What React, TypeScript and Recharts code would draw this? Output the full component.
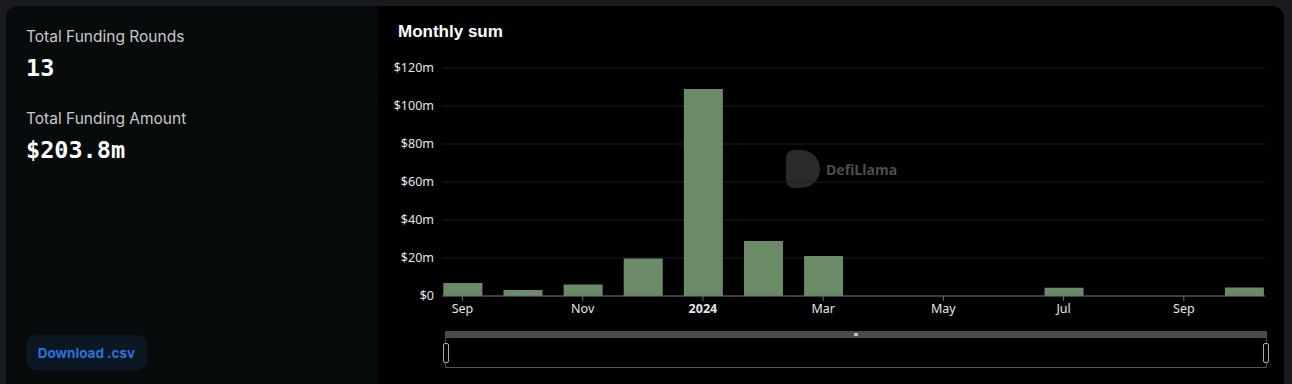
import React from 'react'
import { BarChart, Bar, XAxis, YAxis, CartesianGrid } from 'recharts'

// months from Sep 2023 to Oct 2024, index 0..13
const months = [
  'Sep 2023', 'Oct 2023', 'Nov 2023', 'Dec 2023', 'Jan 2024', 'Feb 2024', 'Mar 2024',
  'Apr 2024', 'May 2024', 'Jun 2024', 'Jul 2024', 'Aug 2024', 'Sep 2024', 'Oct 2024',
]
const amounts = [6.8, 3.2, 6.1, 19.8, 109.0, 28.9, 21.0, 0, 0, 0, 4.3, 0, 0, 4.5]

const xTicks = [0, 2, 4, 6, 8, 10, 12]
const xTickLabels: Record<number, string> = {
  0: 'Sep', 2: 'Nov', 4: '2024', 6: 'Mar', 8: 'May', 10: 'Jul', 12: 'Sep',
}
const yTicks = [0, 20, 40, 60, 80, 100, 120]

const data = months.map((m, i) => ({ idx: i, month: m, value: amounts[i] }))

const fmtMoney = (v: number) => (v === 0 ? '$0' : `$${v}m`)

function MonthTick(props: any) {
  const { x, y, payload } = props
  const label = xTickLabels[payload.value] ?? ''
  return (
    <text
      x={x}
      y={y}
      dy={10}
      textAnchor="middle"
      fill="#e6e6e6"
      fontSize={12.5}
      fontWeight={label === '2024' ? 700 : 400}
      fontFamily="'Noto Sans', sans-serif"
    >
      {label}
    </text>
  )
}

const handleStyle: React.CSSProperties = {
  position: 'absolute',
  top: 343,
  width: 4,
  height: 18,
  border: '1px solid #aaa',
  borderRadius: 2,
  background: '#000',
}

export default function App() {
  return (
    <div
      style={{
        position: 'fixed',
        left: 0,
        top: 0,
        width: 1292,
        height: 384,
        background: '#1a1b1f',
        overflow: 'hidden',
      }}
    >
      <div
        style={{
          position: 'absolute',
          left: 6,
          top: 6,
          width: 1278,
          height: 390,
          borderRadius: 12,
          overflow: 'hidden',
          background: '#000',
        }}
      >
        {/* left stats panel */}
        <div
          style={{
            position: 'absolute',
            left: 0,
            top: 0,
            width: 372,
            height: 390,
            background: '#070b0c',
            fontFamily: 'Inter, sans-serif',
          }}
        >
          <div style={{ position: 'absolute', left: 20, top: 21, fontSize: 15.5, color: '#c8c8c8' }}>
            Total Funding Rounds
          </div>
          <div
            style={{
              position: 'absolute',
              left: 20,
              top: 48,
              fontSize: 23.5,
              fontWeight: 700,
              color: '#fff',
              fontFamily: "'DejaVu Sans Mono', monospace",
            }}
          >
            13
          </div>
          <div style={{ position: 'absolute', left: 20, top: 103, fontSize: 15.5, color: '#c8c8c8' }}>
            Total Funding Amount
          </div>
          <div
            style={{
              position: 'absolute',
              left: 20,
              top: 130,
              fontSize: 23.5,
              fontWeight: 700,
              color: '#fff',
              fontFamily: "'DejaVu Sans Mono', monospace",
            }}
          >
            $203.8m
          </div>
          <div
            style={{
              position: 'absolute',
              left: 20,
              top: 329,
              width: 121,
              height: 35,
              borderRadius: 10,
              background: '#0b1824',
              color: '#2a73d9',
              fontSize: 13.5,
              fontWeight: 700,
              display: 'flex',
              alignItems: 'center',
              justifyContent: 'center',
            }}
          >
            Download .csv
          </div>
        </div>

        {/* chart panel */}
        <div style={{ position: 'absolute', left: 374, top: -6, width: 904, height: 396 }}>
          <div
            style={{
              position: 'absolute',
              left: 18,
              top: 22,
              fontSize: 17,
              fontWeight: 700,
              color: '#fff',
              fontFamily: "'Liberation Sans', Arial, sans-serif",
            }}
          >
            Monthly sum
          </div>

          {/* watermark */}
          <div
            style={{
              position: 'absolute',
              left: 406,
              top: 150,
              display: 'flex',
              alignItems: 'center',
              gap: 6,
              fontFamily: "'Open Sans', sans-serif",
            }}
          >
            <div
              style={{
                width: 34,
                height: 38,
                borderRadius: '8px 19px 19px 8px',
                background: '#2a2a2a',
              }}
            />
            <span style={{ fontSize: 14, fontWeight: 700, color: '#4d4d4d' }}>DefiLlama</span>
          </div>

          <BarChart
            width={904}
            height={330}
            data={data}
            margin={{ top: 68, right: 19, left: 6, bottom: 4 }}
          >
            <CartesianGrid vertical={false} stroke="#1e1e1e" />
            <XAxis
              dataKey="idx"
              type="number"
              domain={[-0.34, 13.35]}
              ticks={xTicks}
              interval={0}
              height={30}
              tick={<MonthTick />}
              tickSize={5}
              tickMargin={2}
              tickLine={{ stroke: '#6e7079' }}
              axisLine={{ stroke: '#6e7079' }}
              allowDataOverflow
            />
            <YAxis
              type="number"
              domain={[0, 120]}
              ticks={yTicks}
              width={56}
              tickFormatter={fmtMoney}
              tick={{ fill: '#e6e6e6', fontSize: 12.5, fontFamily: "'Noto Sans', sans-serif" }}
              tickLine={false}
              axisLine={false}
            />
            <Bar dataKey="value" fill="#6b8b68" barSize={39} isAnimationActive={false} />
          </BarChart>

          {/* zoom slider */}
          <div
            style={{
              position: 'absolute',
              left: 65,
              top: 331,
              width: 822,
              height: 7,
              background: '#4a4a4a',
            }}
          />
          <div
            style={{
              position: 'absolute',
              left: 65,
              top: 338,
              width: 822,
              height: 30,
              borderBottom: '1px solid #555',
              borderLeft: '1px solid #444',
              borderRight: '1px solid #444',
              boxSizing: 'border-box',
            }}
          />
          <div style={{ ...handleStyle, left: 63 }} />
          <div style={{ ...handleStyle, left: 883 }} />
          <div
            style={{
              position: 'absolute',
              left: 474,
              top: 333,
              width: 4,
              height: 3,
              background: '#bbb',
            }}
          />
        </div>
      </div>
    </div>
  )
}
